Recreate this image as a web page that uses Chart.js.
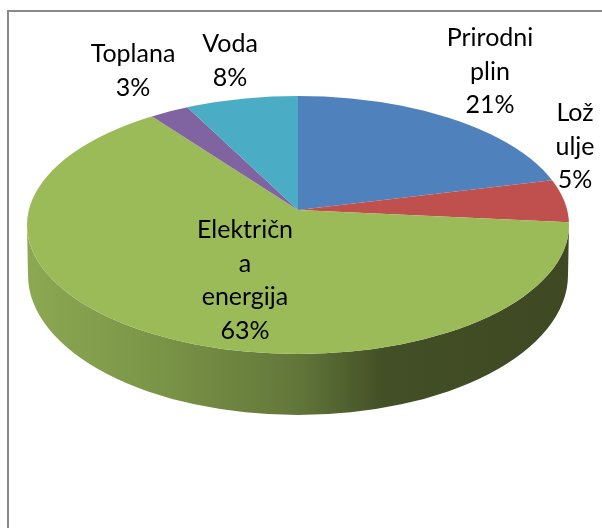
<!DOCTYPE html>
<html>
<head>
<meta charset="utf-8">
<title>Potrošnja energije</title>
<script src="https://cdn.jsdelivr.net/npm/chart.js@4/dist/chart.umd.min.js"></script>
<style>
  html, body { margin: 0; padding: 0; background: #fff; overflow: hidden; }
  #wrap { position: relative; width: 602px; height: 528px; }
  #frame { position: absolute; left: 7px; top: 10px; right: 0; bottom: 0; border-left: 2px solid #8a8a8a; border-top: 2px solid #8a8a8a; }
  canvas { position: absolute; left: 0; top: 0; }
</style>
</head>
<body>
<div id="wrap">
  <div id="frame"></div>
  <canvas id="pie" width="602" height="528"></canvas>
</div>
<script>
const categories = ["Prirodni plin", "Lož ulje", "Električna energija", "Toplana", "Voda"];
const shares = [21.4, 5, 62.9, 2.7, 8];
const sliceColors = ["#4F81BD", "#C0504D", "#9BBB59", "#8064A2", "#4BACC6"];

// wrapped the same way as the original labels
const labelLines = [["Prirodni", "plin"], ["Lož", "ulje"], ["Električn", "a", "energija"], ["Toplana"], ["Voda"]];
const labelCenterX = [490, 575, 245, 133, 230];
const labelFirstY = [38, 113, 230, 54, 44];
const lineHeight = 33.5;

// the face is an off-centre ellipse, the slices meet above its middle (perspective look)
const face = { x: 298, y: 225, rx: 271, ry: 129 };
const wallBottom = { x: 298, y: 275, rx: 270, ry: 140 };
const apex = { x: 298, y: 210 };
const tilt = 0.51;

const wallStops = [[0, "#8CA852"], [0.25, "#7A9447"], [0.5, "#62763A"], [0.66, "#434F26"], [1, "#3E4923"]];

const pie3d = {
  id: "pie3d",
  beforeDatasetsDraw(chart) {
    const ctx = chart.ctx;
    const arc = chart.getDatasetMeta(0).data[0];

    // side wall
    const grad = ctx.createLinearGradient(face.x - face.rx, 0, face.x + face.rx, 0);
    wallStops.forEach(s => grad.addColorStop(s[0], s[1]));
    ctx.save();
    ctx.beginPath();
    ctx.ellipse(face.x, face.y, face.rx, face.ry, 0, Math.PI, 0, true);
    ctx.lineTo(wallBottom.x + wallBottom.rx, wallBottom.y);
    ctx.ellipse(wallBottom.x, wallBottom.y, wallBottom.rx, wallBottom.ry, 0, 0, Math.PI);
    ctx.closePath();
    ctx.fillStyle = grad;
    ctx.fill();
    ctx.restore();

    // top face: oversize the pie, squash it and cut it to the ellipse
    const k = 1.5;
    ctx.save();
    ctx.beginPath();
    ctx.ellipse(face.x, face.y, face.rx, face.ry, 0, 0, Math.PI * 2);
    ctx.clip();
    ctx.translate(apex.x, apex.y);
    ctx.scale(k, k * tilt);
    ctx.translate(-arc.x, -arc.y);
  },
  afterDatasetsDraw(chart) {
    const ctx = chart.ctx;
    ctx.restore();

    ctx.fillStyle = "#000";
    ctx.font = "25px Lato";
    ctx.textAlign = "center";
    ctx.textBaseline = "middle";
    labelLines.forEach((lines, i) => {
      const rows = lines.concat(Math.round(shares[i]) + "%");
      rows.forEach((txt, j) => ctx.fillText(txt, labelCenterX[i], labelFirstY[i] + j * lineHeight));
    });
  }
};

new Chart(document.getElementById("pie"), {
  type: "pie",
  data: {
    labels: categories,
    datasets: [{ data: shares, backgroundColor: sliceColors, borderWidth: 0 }]
  },
  options: {
    responsive: false,
    animation: false,
    events: [],
    plugins: { legend: { display: false }, tooltip: { enabled: false } }
  },
  plugins: [pie3d]
});
</script>
</body>
</html>
